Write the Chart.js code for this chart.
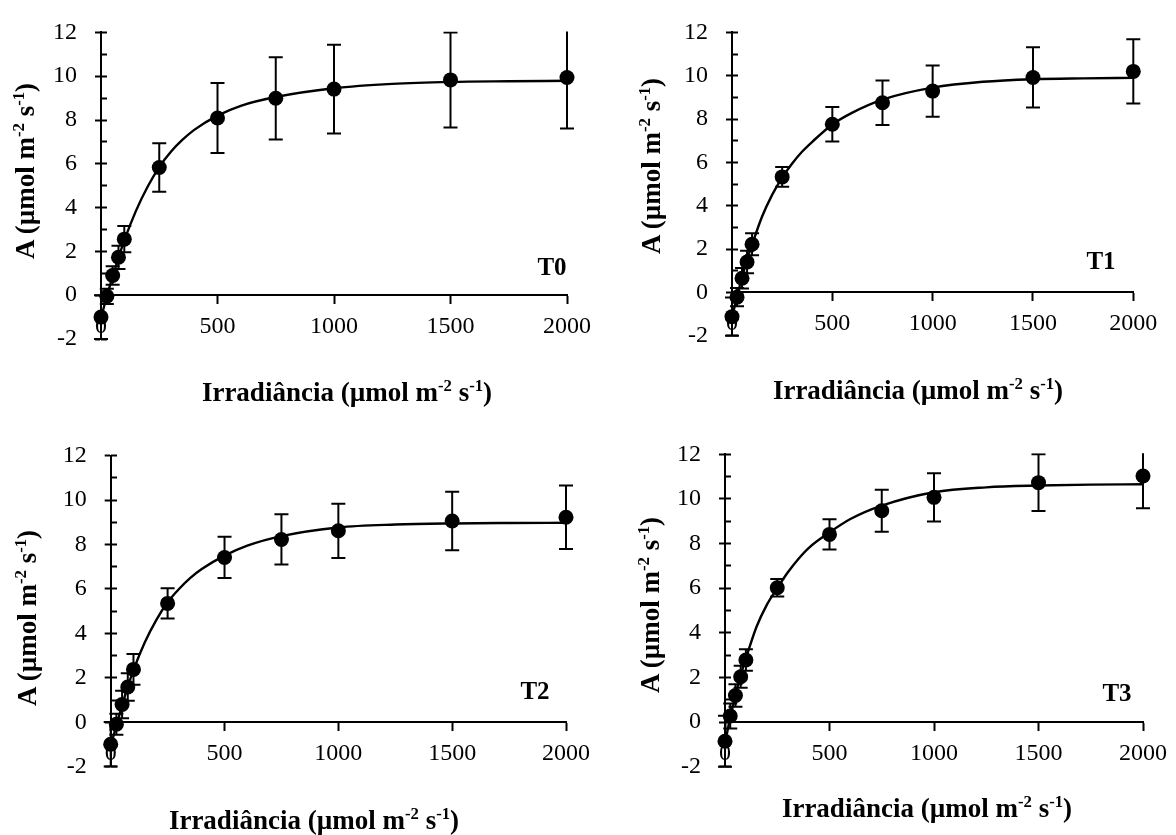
<!DOCTYPE html>
<html lang="pt">
<head>
<meta charset="utf-8">
<title>Curvas de resposta à luz T0-T3</title>
<script src="https://cdn.jsdelivr.net/npm/chart.js@4.4.1/dist/chart.umd.min.js"></script>
<style>
  body { margin: 0; background: #fff; }
  #fig { position: relative; width: 1176px; height: 835px; overflow: hidden; font-family: 'Liberation Serif', 'Times New Roman', serif; color: #000; }
  .painel { position: absolute; }
  .titulo { position: absolute; font-weight: bold; font-size: 27px; white-space: nowrap; line-height: 1; transform: translate(-50%, -50%); }
  .titulo.y { transform: translate(-50%, -50%) rotate(-90deg); }
  .titulo sup { font-size: 0.62em; vertical-align: 0.55em; line-height: 0; }
  .trat { position: absolute; font-weight: bold; font-size: 25px; line-height: 1; transform: translate(-50%, -50%); }
</style>
</head>
<body>
<div id="fig">
  <div class="painel" style="left:0;top:0;width:600px;height:420px"><canvas id="grafico0"></canvas></div>
  <div class="painel" style="left:600px;top:0;width:576px;height:420px"><canvas id="grafico1"></canvas></div>
  <div class="painel" style="left:0;top:420px;width:600px;height:415px"><canvas id="grafico2"></canvas></div>
  <div class="painel" style="left:600px;top:420px;width:576px;height:415px"><canvas id="grafico3"></canvas></div>

  <div class="titulo y" style="left:25px;top:171px">A (µmol m<sup>-2</sup> s<sup>-1</sup>)</div>
  <div class="titulo" style="left:347px;top:392px">Irradiância (µmol m<sup>-2</sup> s<sup>-1</sup>)</div>
  <div class="trat" style="left:552px;top:266px">T0</div>

  <div class="titulo y" style="left:651px;top:166px">A (µmol m<sup>-2</sup> s<sup>-1</sup>)</div>
  <div class="titulo" style="left:918px;top:390px">Irradiância (µmol m<sup>-2</sup> s<sup>-1</sup>)</div>
  <div class="trat" style="left:1101px;top:260px">T1</div>

  <div class="titulo y" style="left:27px;top:618px">A (µmol m<sup>-2</sup> s<sup>-1</sup>)</div>
  <div class="titulo" style="left:314px;top:820px">Irradiância (µmol m<sup>-2</sup> s<sup>-1</sup>)</div>
  <div class="trat" style="left:535px;top:690px">T2</div>

  <div class="titulo y" style="left:650px;top:605px">A (µmol m<sup>-2</sup> s<sup>-1</sup>)</div>
  <div class="titulo" style="left:927px;top:808px">Irradiância (µmol m<sup>-2</sup> s<sup>-1</sup>)</div>
  <div class="trat" style="left:1117px;top:692px">T3</div>
</div>

<script>
// irradiancias medidas
const irradiancia = [0, 25, 50, 75, 100, 250, 500, 750, 1000, 1500, 2000];

// medias e erros
const aT0 = [-1.0, -0.05, 0.9, 1.73, 2.56, 5.83, 8.09, 8.99, 9.41, 9.83, 9.94];
const erroT0 = [1.0, 0.35, 0.42, 0.53, 0.6, 1.11, 1.6, 1.88, 2.03, 2.17, 2.33];

const aT1 = [-1.12, -0.22, 0.65, 1.4, 2.22, 5.33, 7.76, 8.75, 9.29, 9.92, 10.2];
const erroT1 = [0.88, 0.42, 0.47, 0.52, 0.51, 0.46, 0.8, 1.03, 1.18, 1.39, 1.48];

const aT2 = [-0.99, -0.09, 0.8, 1.59, 2.38, 5.35, 7.42, 8.23, 8.62, 9.06, 9.23];
const erroT2 = [1.0, 0.47, 0.62, 0.62, 0.69, 0.68, 0.93, 1.13, 1.22, 1.32, 1.43];

const aT3 = [-0.86, 0.27, 1.19, 2.03, 2.78, 6.02, 8.41, 9.47, 10.07, 10.73, 11.03];
const erroT3 = [1.14, 0.56, 0.5, 0.49, 0.48, 0.39, 0.68, 0.94, 1.08, 1.27, 1.45];

// curvas ajustadas (lidas ponto a ponto)
const irradianciaCurva = [0, 25, 50, 75, 100, 150, 200, 250, 300, 350, 400, 500, 600, 750, 1000, 1250, 1500, 1750, 2000];
const curvaT0 = [-1.05, -0.05, 0.85, 1.7, 2.5, 3.85, 4.95, 5.85, 6.55, 7.1, 7.55, 8.2, 8.65, 9.05, 9.45, 9.65, 9.74, 9.77, 9.79];
const curvaT1 = [-1.15, -0.2, 0.7, 1.5, 2.2, 3.5, 4.5, 5.3, 5.95, 6.5, 6.95, 7.75, 8.3, 8.9, 9.45, 9.72, 9.84, 9.88, 9.9];
const curvaT2 = [-1.05, -0.15, 0.75, 1.6, 2.35, 3.6, 4.6, 5.4, 6.0, 6.5, 6.9, 7.5, 7.95, 8.38, 8.77, 8.9, 8.95, 8.97, 8.98];
const curvaT3 = [-0.95, 0.2, 1.2, 2.1, 2.85, 4.25, 5.25, 6.0, 6.7, 7.3, 7.8, 8.5, 9.1, 9.7, 10.3, 10.52, 10.6, 10.64, 10.66];

// ticks dos eixos
const ticksX = [0, 500, 1000, 1500, 2000];
const ticksY = [-2, 0, 2, 4, 6, 8, 10, 12];
const ticksYMenor = [-2, -1, 0, 1, 2, 3, 4, 5, 6, 7, 8, 9, 10, 11, 12];

Chart.defaults.font.family = "'Liberation Serif', 'Times New Roman', serif";
Chart.defaults.font.size = 24;
Chart.defaults.color = '#000';

// plugin para as barras de erro
const barrasErro = {
  id: 'barrasErro',
  beforeDatasetsDraw(chart, args, opts) {
    const { ctx, chartArea } = chart;
    const x = chart.scales.x;
    const y = chart.scales.y;
    ctx.save();
    ctx.beginPath();
    ctx.rect(chartArea.left - 20, chartArea.top - 1, chartArea.width + 40, chartArea.height + 3);
    ctx.clip();
    ctx.strokeStyle = '#000';
    ctx.lineWidth = 2;
    opts.medias.forEach((m, i) => {
      const px = x.getPixelForValue(irradiancia[i]);
      const topo = y.getPixelForValue(m + opts.erros[i]);
      const base = y.getPixelForValue(m - opts.erros[i]);
      ctx.beginPath();
      ctx.moveTo(px, topo);
      ctx.lineTo(px, base);
      ctx.moveTo(px - 7, topo);
      ctx.lineTo(px + 7, topo);
      ctx.moveTo(px - 7, base);
      ctx.lineTo(px + 7, base);
      ctx.stroke();
    });
    ctx.restore();
  }
};

function criarGrafico(id, medias, erros, curva, area) {
  const ctx = document.getElementById(id).getContext('2d');
  return new Chart(ctx, {
    type: 'scatter',
    data: {
      datasets: [
        {
          type: 'line',
          data: irradianciaCurva.map((v, i) => ({ x: v, y: curva[i] })),
          borderColor: '#000',
          borderWidth: 2.4,
          pointRadius: 0,
          cubicInterpolationMode: 'monotone',
          fill: false,
        },
        {
          data: irradiancia.map((v, i) => ({ x: v, y: medias[i] })),
          pointRadius: 7.5,
          borderWidth: 0,
          backgroundColor: '#000',
          borderColor: '#000',
          clip: false,
        },
      ],
    },
    options: {
      responsive: true,
      maintainAspectRatio: false,
      animation: false,
      layout: {
        padding: { left: 0, top: area.topo, right: area.direita, bottom: area.baixo },
      },
      plugins: {
        legend: { display: false },
        tooltip: { enabled: false },
        barrasErro: { medias: medias, erros: erros },
      },
      scales: {
        x: {
          type: 'linear',
          position: { y: 0 },
          min: 0,
          max: 2000,
          afterBuildTicks: (s) => { s.ticks = ticksX.map((v) => ({ value: v })); },
          ticks: { padding: 9, maxRotation: 0, autoSkip: false, callback: (v) => String(v) },
          grid: { drawOnChartArea: false, tickLength: 8, tickColor: '#000', tickWidth: 2 },
          border: { color: '#000', width: 2 },
        },
        y: {
          type: 'linear',
          position: 'left',
          min: -2,
          max: 12,
          afterBuildTicks: (s) => { s.ticks = ticksY.map((v) => ({ value: v })); },
          afterFit: (s) => { s.width = area.eixoY; },
          ticks: { padding: 18, autoSkip: false, callback: (v) => String(v) },
          grid: { drawOnChartArea: false, tickLength: 6, tickColor: '#000', tickWidth: 2 },
          border: { color: '#000', width: 2 },
        },
        yMenor: {
          type: 'linear',
          axis: 'y',
          position: { x: 0 },
          min: -2,
          max: 12,
          afterBuildTicks: (s) => { s.ticks = ticksYMenor.map((v) => ({ value: v })); },
          ticks: { display: false },
          grid: { drawOnChartArea: false, tickLength: -6, tickColor: '#000', tickWidth: 2 },
          border: { display: false },
        },
      },
    },
    plugins: [barrasErro],
  });
}

criarGrafico('grafico0', aT0, erroT0, curvaT0, { eixoY: 101, topo: 29.3, direita: 27.7, baixo: 81 });
criarGrafico('grafico1', aT1, erroT1, curvaT1, { eixoY: 132, topo: 24.3, direita: 42.7, baixo: 84.3 });
criarGrafico('grafico2', aT2, erroT2, curvaT2, { eixoY: 110.7, topo: 35.7, direita: 34, baixo: 68.3 });
criarGrafico('grafico3', aT3, erroT3, curvaT3, { eixoY: 125, topo: 34.3, direita: 29.2, baixo: 68.3 });
</script>
</body>
</html>
